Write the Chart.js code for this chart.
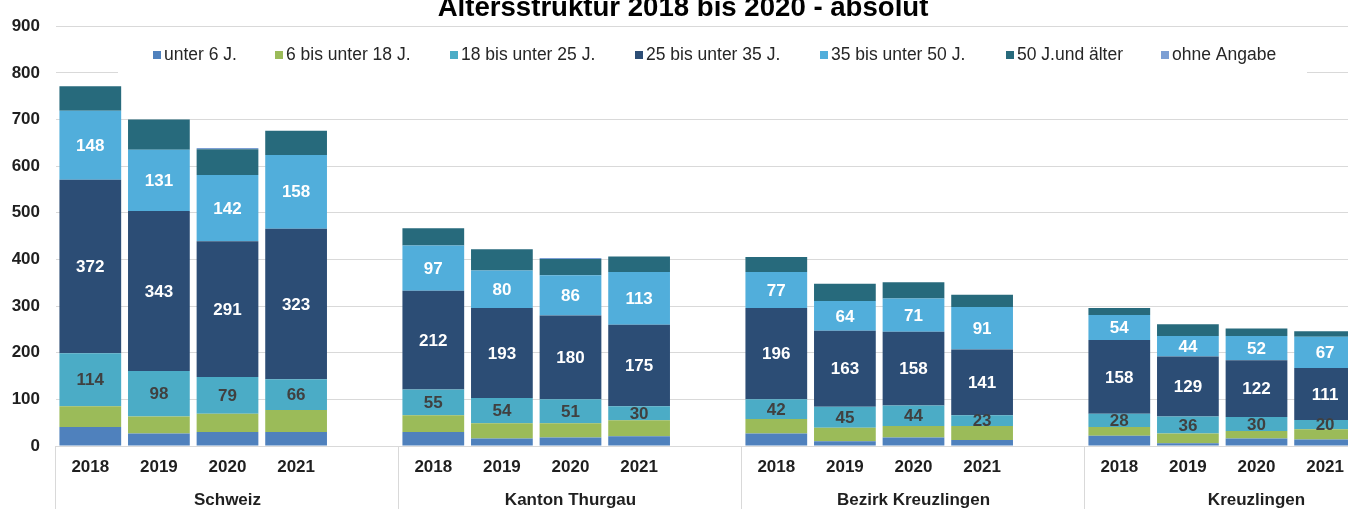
<!DOCTYPE html>
<html><head><meta charset="utf-8">
<script src="https://cdn.jsdelivr.net/npm/chart.js@4/dist/chart.umd.min.js"></script>
<style>
html,body{margin:0;padding:0;background:#fff;overflow:hidden;}
#wrap{position:relative;width:1348px;height:509px;overflow:hidden;background:#fff;}
canvas{position:absolute;left:0;top:0;}
</style></head><body>
<div id="wrap"><canvas id="c" width="1440" height="520"></canvas></div>
<script>
// ---- data ----
const chartTitle = 'Altersstruktur 2018 bis 2020 - absolut';
const groups = ['Schweiz', 'Kanton Thurgau', 'Bezirk Kreuzlingen', 'Kreuzlingen'];
const years = ['2018', '2019', '2020', '2021'];
const yTicks = [0, 100, 200, 300, 400, 500, 600, 700, 800, 900];
const seriesNames = ['unter 6 J.', '6 bis unter 18 J.', '18 bis unter 25 J.', '25 bis unter 35 J.', '35 bis unter 50 J.', '50 J.und älter', 'ohne Angabe'];
// values per series: Schweiz 2018-2021, Kanton Thurgau 2018-2021, Bezirk Kreuzlingen 2018-2021, Kreuzlingen 2018-2021
const unter6      = [41, 27, 30, 30,   30, 16, 18, 21,   27, 10, 18, 13,   22, 6, 16, 14];
const bis18       = [44, 36, 39, 47,   36, 33, 31, 34,   31, 29, 25, 30,   19, 21, 16, 22];
const bis25       = [114, 98, 79, 66,  55, 54, 51, 30,   42, 45, 44, 23,   28, 36, 30, 20];
const bis35       = [372, 343, 291, 323, 212, 193, 180, 175, 196, 163, 158, 141, 158, 129, 122, 111];
const bis50       = [148, 131, 142, 158, 97, 80, 86, 113, 77, 64, 71, 91,   54, 44, 52, 67];
const ab50        = [52, 65, 55, 52,   37, 46, 35, 33,   32, 37, 35, 26,   15, 25, 16, 12];
const ohneAngabe  = [0, 0, 3, 0,       0, 0, 2, 0,       0, 0, 0, 0,       0, 0, 0, 0];

// ---- styles ----
const seriesColors = ['#4F81BD', '#9BBB59', '#4BACC6', '#2C4D75', '#51AEDB', '#276A7C', '#7C9FD4'];
const labelColors = [null, null, '#404040', '#ffffff', '#ffffff', null, null];
const FONT = "'Liberation Sans', Arial, Helvetica, sans-serif";

// build slots: 4 years + 1 empty gap per group
const slotLabels = [];
groups.forEach(() => { years.forEach(y => slotLabels.push(y)); slotLabels.push(''); });
function expand(vals) {
  const out = [];
  groups.forEach((g, gi) => {
    years.forEach((y, yi) => out.push(vals[gi * years.length + yi]));
    out.push(null);
  });
  return out;
}
const allSeries = [unter6, bis18, bis25, bis35, bis50, ab50, ohneAngabe];

const titlePlugin = {
  id: 'titleText',
  afterDraw(chart) {
    const ctx = chart.ctx;
    ctx.save();
    ctx.font = 'bold 27.6px ' + FONT;
    ctx.fillStyle = '#000';
    ctx.textAlign = 'center';
    ctx.textBaseline = 'alphabetic';
    ctx.fillText(chartTitle, 683, 16);
    ctx.restore();
  }
};

const legendPlugin = {
  id: 'insideLegend',
  afterDatasetsDraw(chart) {
    const ctx = chart.ctx;
    const boxX = [153, 275, 450, 635, 820, 1006, 1161];
    ctx.save();
    ctx.fillStyle = '#fff';
    ctx.fillRect(118, 36, 1307 - 118, 40);
    ctx.font = '17.5px ' + FONT;
    ctx.textBaseline = 'middle';
    ctx.textAlign = 'left';
    seriesNames.forEach((n, i) => {
      ctx.fillStyle = seriesColors[i];
      ctx.fillRect(boxX[i], 51, 8, 8);
      ctx.fillStyle = '#262626';
      ctx.fillText(n, boxX[i] + 11, 55);
    });
    ctx.restore();
  }
};

const dataLabelPlugin = {
  id: 'segLabels',
  afterDatasetsDraw(chart) {
    const ctx = chart.ctx;
    ctx.save();
    ctx.font = 'bold 17px ' + FONT;
    ctx.textAlign = 'center';
    ctx.textBaseline = 'middle';
    chart.data.datasets.forEach((ds, di) => {
      if (!labelColors[di]) return;
      const meta = chart.getDatasetMeta(di);
      meta.data.forEach((el, i) => {
        const v = ds.data[i];
        if (v === null || v === undefined) return;
        ctx.fillStyle = labelColors[di];
        ctx.fillText(String(v), el.x, (el.y + el.base) / 2 + 1);
      });
    });
    ctx.restore();
  }
};

const separatorPlugin = {
  id: 'groupSeparators',
  afterDraw(chart) {
    const s = chart.scales.x2;
    const ctx = chart.ctx;
    const w = (s.right - s.left) / groups.length;
    ctx.save();
    ctx.strokeStyle = '#d9d9d9';
    ctx.lineWidth = 1;
    for (let k = 0; k <= groups.length; k++) {
      const x = Math.round(s.left + k * w) - 0.5;
      ctx.beginPath();
      ctx.moveTo(x, chart.chartArea.bottom);
      ctx.lineTo(x, chart.height);
      ctx.stroke();
    }
    ctx.restore();
  }
};

new Chart(document.getElementById('c').getContext('2d'), {
  type: 'bar',
  data: {
    labels: slotLabels,
    datasets: allSeries.map((vals, i) => ({
      label: seriesNames[i],
      data: expand(vals),
      backgroundColor: seriesColors[i],
      borderWidth: 0,
      barPercentage: 0.9,
      categoryPercentage: 1.0,
      xAxisID: 'x',
      yAxisID: 'y'
    }))
  },
  options: {
    responsive: false,
    animation: false,
    devicePixelRatio: 1,
    layout: { padding: { left: 0, right: 12, top: 24, bottom: 11 } },
    plugins: { legend: { display: false }, title: { display: false }, tooltip: { enabled: false } },
    scales: {
      x: {
        stacked: true,
        position: 'bottom',
        grid: { display: false, drawTicks: false },
        border: { display: false },
        ticks: { font: { family: FONT, size: 17, weight: 'bold' }, color: '#1f1f1f', padding: 11, maxRotation: 0, autoSkip: false },
        afterFit(s) { s.height = 31; }
      },
      x2: {
        type: 'category',
        labels: groups,
        position: 'bottom',
        offset: true,
        grid: { display: false, drawTicks: false },
        border: { display: false },
        ticks: { font: { family: FONT, size: 17, weight: 'bold' }, color: '#1f1f1f', padding: 13, maxRotation: 0, autoSkip: false },
        afterFit(s) { s.height = 32; }
      },
      y: {
        stacked: true,
        min: yTicks[0],
        max: yTicks[yTicks.length - 1],
        afterBuildTicks(s) { s.ticks = yTicks.map(v => ({ value: v })); },
        ticks: { font: { family: FONT, size: 17, weight: 'bold' }, color: '#1f1f1f', padding: 16 },
        grid: { color: '#d9d9d9', drawTicks: false, lineWidth: 1 },
        border: { display: false },
        afterFit(s) { s.width = 56; }
      }
    }
  },
  plugins: [titlePlugin, legendPlugin, dataLabelPlugin, separatorPlugin]
});
</script>
</body></html>
